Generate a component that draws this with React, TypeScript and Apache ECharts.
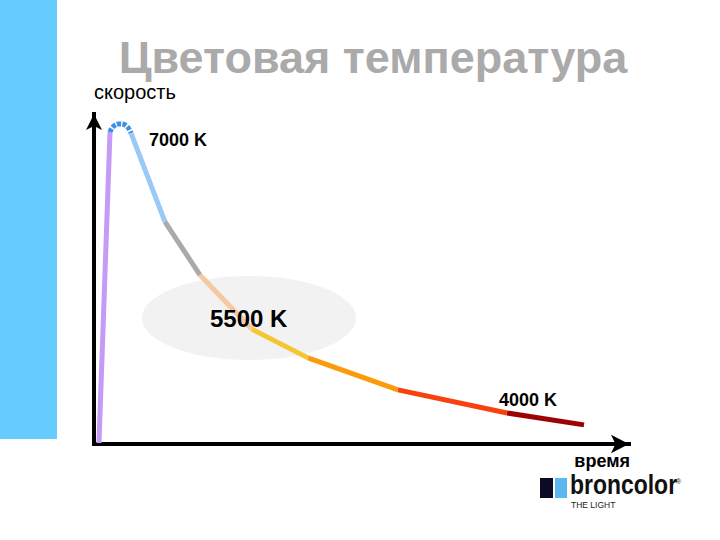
import React, { useEffect, useRef } from "react";
import * as echarts from "echarts";

// Curve segments (x = время, y = скорость), in arbitrary units
const violetSeg = [[0.93, 0.3], [2.99, 94.5]];
const peakSeg = [[2.99, 94.5], [3.55, 96.1], [4.67, 97.0], [5.79, 96.7], [6.92, 94.2]];
const coolSeg = [[6.92, 94.2], [13.27, 67.3]];
const greySeg = [[13.27, 67.3], [19.81, 51.2]];
const peachSeg = [[19.81, 51.2], [29.53, 34.8]];
const yellowSeg = [[29.53, 34.8], [40.0, 26.1]];
const orangeSeg = [[40.0, 26.1], [56.82, 16.4]];
const redSeg = [[56.82, 16.4], [77.2, 9.4]];
const darkRedSeg = [[77.2, 9.4], [91.59, 5.8]];

const segments = [violetSeg, peakSeg, coolSeg, greySeg, peachSeg, yellowSeg, orangeSeg, redSeg, darkRedSeg];
const segmentColors = ["#c49bf6", "#3d8fe6", "#99c9f5", "#aaaaaa", "#f7c9a3", "#f4c633", "#fb9a0a", "#f8410f", "#9c0404"];

const titleText = "Цветовая температура";
const yAxisName = "скорость";
const xAxisName = "время";
const labelHigh = "7000 K";
const labelMid = "5500 K";
const labelLow = "4000 K";

const FONT = "'Liberation Sans', Arial, sans-serif";

export default function App() {
  const ref = useRef<HTMLDivElement>(null);
  useEffect(() => {
    if (!ref.current) return;
    const chart = echarts.init(ref.current, null, { renderer: "svg" });
    const series = segments.map((seg, i) => ({
      type: "line",
      data: seg,
      showSymbol: false,
      symbol: "none",
      smooth: i === 1,
      clip: false,
      z: 3,
      lineStyle: {
        color: segmentColors[i],
        width: 5,
        type: i === 1 ? [4, 1.5] : "solid",
        cap: "butt",
      },
    }));
    chart.setOption({
      animation: false,
      backgroundColor: "#ffffff",
      grid: { left: 94, right: 91, top: 114, bottom: 96 },
      xAxis: {
        type: "value",
        min: 0,
        max: 100,
        axisLine: {
          show: true,
          symbol: ["none", "arrow"],
          symbolSize: [14, 18],
          lineStyle: { color: "#000", width: 4, cap: "square" },
        },
        axisTick: { show: false },
        axisLabel: { show: false },
        splitLine: { show: false },
      },
      yAxis: {
        type: "value",
        min: 0,
        max: 100,
        axisLine: {
          show: true,
          symbol: ["none", "arrow"],
          symbolSize: [12, 16],
          lineStyle: { color: "#000", width: 4, cap: "square" },
        },
        axisTick: { show: false },
        axisLabel: { show: false },
        splitLine: { show: false },
      },
      series,
      graphic: [
        { type: "rect", z: 0, shape: { x: 0, y: 0, width: 57, height: 439 }, style: { fill: "#66ccff" } },
        { type: "ellipse", z: 0, shape: { cx: 249, cy: 318, rx: 107, ry: 42 }, style: { fill: "#f2f2f2" } },
        {
          type: "text", z: 10, x: 373, y: 57,
          style: { text: titleText, fill: "#aaaaaa", font: `bold 45px ${FONT}`, textAlign: "center", textVerticalAlign: "middle" },
        },
        {
          type: "text", z: 10, x: 94, y: 92,
          style: { text: yAxisName, fill: "#000", font: `20px ${FONT}`, textAlign: "left", textVerticalAlign: "middle" },
        },
        {
          type: "text", z: 10, x: 630, y: 461,
          style: { text: xAxisName, fill: "#000", font: `bold 18px ${FONT}`, textAlign: "right", textVerticalAlign: "middle" },
        },
        {
          type: "text", z: 10, x: 149, y: 140,
          style: { text: labelHigh, fill: "#000", font: `bold 18px ${FONT}`, textAlign: "left", textVerticalAlign: "middle" },
        },
        {
          type: "text", z: 10, x: 210, y: 318,
          style: { text: labelMid, fill: "#000", font: `bold 24px ${FONT}`, textAlign: "left", textVerticalAlign: "middle" },
        },
        {
          type: "text", z: 10, x: 499, y: 400,
          style: { text: labelLow, fill: "#000", font: `bold 18px ${FONT}`, textAlign: "left", textVerticalAlign: "middle" },
        },
        // logo
        { type: "rect", z: 10, shape: { x: 540, y: 478, width: 13, height: 20 }, style: { fill: "#0b0b26" } },
        { type: "rect", z: 10, shape: { x: 555, y: 478, width: 12, height: 20 }, style: { fill: "#5ab8ef" } },
        {
          type: "text", z: 10, x: 570, y: 498, scaleX: 0.85,
          style: { text: "broncolor", fill: "#111", font: `bold 27px ${FONT}`, textAlign: "left", textVerticalAlign: "bottom" },
        },
        {
          type: "text", z: 10, x: 571, y: 505,
          style: { text: "THE LIGHT", fill: "#222", font: `8.5px ${FONT}`, textAlign: "left", textVerticalAlign: "middle" },
        },
        {
          type: "text", z: 10, x: 676, y: 481,
          style: { text: "®", fill: "#222", font: `7px ${FONT}`, textAlign: "left", textVerticalAlign: "middle" },
        },
      ],
    });
    return () => chart.dispose();
  }, []);
  return (
    <div
      ref={ref}
      style={{ position: "fixed", left: 0, top: 0, width: 720, height: 540, background: "#fff" }}
    />
  );
}
